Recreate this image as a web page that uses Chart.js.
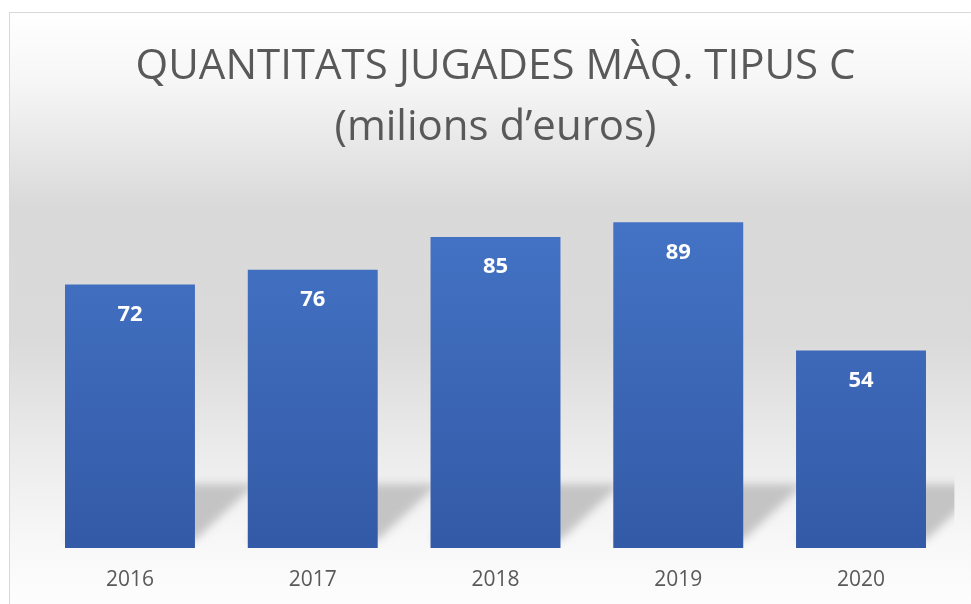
<!DOCTYPE html>
<html>
<head>
<meta charset="utf-8">
<script src="https://cdn.jsdelivr.net/npm/chart.js@4"></script>
<style>
  html, body { margin: 0; padding: 0; background: #fff; }
  #wrap { width: 971px; height: 604px; }
</style>
</head>
<body>
<div id="wrap"><canvas id="chart"></canvas></div>
<script>
const years = ['2016', '2017', '2018', '2019', '2020'];
const amounts = [72, 76, 85, 89, 54];
const titleLines = ['QUANTITATS JUGADES MÀQ. TIPUS C', '(milions d\u2019euros)'];

const FONT = "'Open Sans', 'Noto Sans', sans-serif";

// card background + border, bar shadows, value labels
const backdrop = {
    id: 'backdrop',
    beforeDraw(chart) {
        const ctx = chart.ctx;
        const h = chart.height;
        ctx.save();
        ctx.fillStyle = '#fff';
        ctx.fillRect(0, 0, chart.width, h);
        const g = ctx.createLinearGradient(0, 12, 0, h);
        g.addColorStop(0, '#ffffff');
        g.addColorStop(0.12, '#f6f6f6');
        g.addColorStop(0.33, '#d9d9d9');
        g.addColorStop(0.55, '#dadada');
        g.addColorStop(0.75, '#ececec');
        g.addColorStop(0.9, '#f8f8f8');
        g.addColorStop(1, '#fdfdfd');
        ctx.fillStyle = g;
        ctx.fillRect(9, 12, chart.width, h);
        ctx.strokeStyle = '#d9d9d9';
        ctx.lineWidth = 1;
        ctx.strokeRect(9.5, 12.5, chart.width + 20, h + 20);
        ctx.restore();
    },
    beforeDatasetsDraw(chart) {
        const ctx = chart.ctx;
        const area = chart.chartArea;
        const meta = chart.getDatasetMeta(0);
        ctx.save();
        ctx.beginPath();
        ctx.rect(area.left, area.top, area.right - area.left + 2, area.bottom - area.top);
        ctx.clip();
        ctx.filter = 'blur(4px)';
        ctx.fillStyle = '#c4c4c4';
        meta.data.forEach(bar => {
            const l = bar.x - bar.width / 2;
            const r = bar.x + bar.width / 2;
            const b = bar.base - 8;
            const t = bar.base - 64;
            ctx.beginPath();
            ctx.moveTo(l + 60, t);
            ctx.lineTo(r + 60, t);
            ctx.lineTo(r, b);
            ctx.lineTo(l, b);
            ctx.closePath();
            ctx.fill();
        });
        ctx.restore();
    },
    afterDatasetsDraw(chart) {
        const ctx = chart.ctx;
        const meta = chart.getDatasetMeta(0);
        ctx.save();
        ctx.fillStyle = '#ffffff';
        ctx.font = 'bold 22px ' + FONT;
        ctx.textAlign = 'center';
        ctx.textBaseline = 'middle';
        meta.data.forEach((bar, i) => {
            ctx.fillText(String(amounts[i]), bar.x, bar.y + 30);
        });
        ctx.restore();
    }
};

const ctx = document.getElementById('chart').getContext('2d');
new Chart(ctx, {
    type: 'bar',
    data: {
        labels: years,
        datasets: [{
            data: amounts,
            backgroundColor: (c) => {
                const area = c.chart.chartArea;
                if (!area) return '#4472c4';
                const g = c.chart.ctx.createLinearGradient(0, area.top, 0, area.bottom);
                g.addColorStop(0, '#4676c9');
                g.addColorStop(1, '#335aa6');
                return g;
            },
            borderWidth: 0,
            categoryPercentage: 1,
            barPercentage: 0.711
        }]
    },
    options: {
        responsive: true,
        maintainAspectRatio: false,
        animation: false,
        layout: { padding: { top: 0, left: 38.6, right: 18.6, bottom: 0 } },
        plugins: {
            legend: { display: false },
            tooltip: { enabled: false },
            title: {
                display: true,
                text: titleLines,
                color: '#595959',
                font: { family: FONT, size: 42, weight: 'normal', lineHeight: 1.46 },
                padding: { top: 36, bottom: 23.4 }
            }
        },
        scales: {
            y: { display: false, min: 0, max: 100 },
            x: {
                grid: { display: false, drawTicks: false },
                border: { display: false },
                ticks: {
                    color: '#595959',
                    padding: 19,
                    font: { family: FONT, size: 21 }
                },
                afterFit: (scale) => { scale.height = 56; }
            }
        }
    },
    plugins: [backdrop]
});
</script>
</body>
</html>
